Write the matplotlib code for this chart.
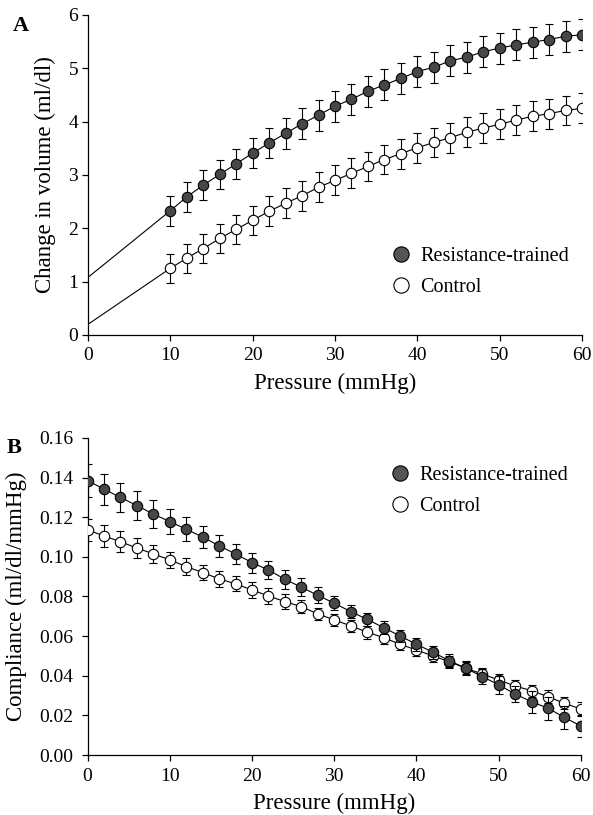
import numpy as np
import matplotlib.pyplot as plt
from matplotlib.lines import Line2D

plt.rcParams['font.family'] = ['Liberation Serif', 'DejaVu Serif']

# ---- Panel A: change in volume vs pressure ----
press_a = np.arange(10, 61, 2)
rt_vol = [2.33, 2.59, 2.81, 3.01, 3.21, 3.41, 3.60, 3.78, 3.96, 4.12, 4.29, 4.42, 4.57,
          4.69, 4.81, 4.94, 5.02, 5.14, 5.21, 5.31, 5.38, 5.44, 5.49, 5.54, 5.60, 5.63]
rt_vol_err = [0.28, 0.28, 0.28, 0.28, 0.28, 0.28, 0.28, 0.29, 0.29, 0.29, 0.29, 0.29, 0.29,
              0.29, 0.29, 0.29, 0.29, 0.29, 0.29, 0.29, 0.29, 0.29, 0.29, 0.29, 0.29, 0.29]
ctl_vol = [1.25, 1.44, 1.62, 1.81, 1.98, 2.15, 2.32, 2.47, 2.61, 2.77, 2.90, 3.03, 3.16,
           3.29, 3.40, 3.51, 3.61, 3.70, 3.80, 3.88, 3.95, 4.03, 4.10, 4.15, 4.21, 4.25]
ctl_vol_err = [0.27, 0.27, 0.27, 0.27, 0.27, 0.27, 0.28, 0.28, 0.28, 0.28, 0.28, 0.28, 0.28,
               0.28, 0.28, 0.28, 0.28, 0.28, 0.28, 0.28, 0.28, 0.28, 0.28, 0.28, 0.28, 0.28]
rt_intercept = 1.08
ctl_intercept = 0.20

# ---- Panel B: compliance vs pressure ----
press_b = np.arange(0, 61, 2)
rt_comp = [0.1385, 0.1342, 0.1300, 0.1259, 0.1216, 0.1178, 0.1140, 0.1100, 0.1056, 0.1015,
           0.0971, 0.0934, 0.0887, 0.0847, 0.0806, 0.0766, 0.0724, 0.0685, 0.0643, 0.0601,
           0.0559, 0.0519, 0.0476, 0.0438, 0.0396, 0.0354, 0.0308, 0.0269, 0.0236, 0.0190,
           0.0146]
rt_comp_err = [0.0084, 0.0078, 0.0073, 0.0072, 0.0071, 0.0064, 0.0059, 0.0057, 0.0055, 0.0050,
               0.0050, 0.0045, 0.0047, 0.0044, 0.0040, 0.0036, 0.0034, 0.0033, 0.0032, 0.0032,
               0.0032, 0.0033, 0.0033, 0.0034, 0.0040, 0.0045, 0.0042, 0.0055, 0.0057, 0.0057,
               0.0054]
ctl_comp = [0.1136, 0.1106, 0.1076, 0.1045, 0.1015, 0.0985, 0.0951, 0.0921, 0.0889, 0.0864,
            0.0833, 0.0803, 0.0774, 0.0749, 0.0712, 0.0682, 0.0652, 0.0620, 0.0593, 0.0559,
            0.0530, 0.0500, 0.0471, 0.0438, 0.0409, 0.0379, 0.0348, 0.0325, 0.0294, 0.0261,
            0.0232]
ctl_comp_err = [0.0056, 0.0055, 0.0053, 0.0051, 0.0046, 0.0042, 0.0044, 0.0040, 0.0040, 0.0038,
                0.0039, 0.0039, 0.0039, 0.0034, 0.0030, 0.0030, 0.0030, 0.0032, 0.0032, 0.0030,
                0.0030, 0.0030, 0.0030, 0.0030, 0.0030, 0.0028, 0.0030, 0.0030, 0.0034, 0.0031,
                0.0034]

labels = ['Resistance-trained', 'Control']
rt_face = '#474747'

fig = plt.figure(figsize=(5.93, 8.15), dpi=100)
axA = fig.add_axes([0.1484, 0.589, 0.833, 0.3926])
axB = fig.add_axes([0.1476, 0.0736, 0.832, 0.389])

eb_kw = dict(color='black', lw=0.8, elinewidth=0.8, capsize=3.2, capthick=0.8,
             markersize=7.5, markeredgewidth=0.8, markeredgecolor='black')

# extrapolated lines down to 0 mmHg
axA.plot([0, press_a[0]], [rt_intercept, rt_vol[0]], color='black', lw=0.8)
axA.plot([0, press_a[0]], [ctl_intercept, ctl_vol[0]], color='black', lw=0.8)
axA.errorbar(press_a, ctl_vol, yerr=ctl_vol_err, fmt='o-', markerfacecolor='white', zorder=3, **eb_kw)
axA.errorbar(press_a, rt_vol, yerr=rt_vol_err, fmt='o-', markerfacecolor=rt_face, zorder=4, **eb_kw)

axB.errorbar(press_b, ctl_comp, yerr=ctl_comp_err, fmt='o-', markerfacecolor='white', zorder=3, **eb_kw)
axB.errorbar(press_b, rt_comp, yerr=rt_comp_err, fmt='o-', markerfacecolor=rt_face, zorder=4, **eb_kw)

handles = [Line2D([], [], ls='none', marker='o', markersize=11, markerfacecolor='#555555',
                  markeredgecolor='black', markeredgewidth=0.8),
           Line2D([], [], ls='none', marker='o', markersize=11, markerfacecolor='white',
                  markeredgecolor='black', markeredgewidth=0.8)]

for ax in (axA, axB):
    for s in ('top', 'right'):
        ax.spines[s].set_visible(False)
    for s in ('left', 'bottom'):
        ax.spines[s].set_linewidth(0.9)
    ax.tick_params(direction='out', length=4, width=0.9, labelsize=14)
    ax.tick_params(axis='x', pad=5)
    ax.set_xlim(0, 60)
    ax.set_xticks(np.arange(0, 61, 10))
    ax.set_xlabel('Pressure (mmHg)', fontsize=16.5, labelpad=6)
    ax.legend(handles, labels, loc='upper left', frameon=False, fontsize=14.5,
              handlelength=1.0, handletextpad=0.45, labelspacing=0.6,
              borderpad=0, borderaxespad=0,
              bbox_to_anchor=(0.613, 0.275 if ax is axA else 0.912))

axA.tick_params(axis='y', pad=3)
axA.set_ylim(0, 6)
axA.set_yticks(np.arange(0, 7, 1))
axA.set_ylabel('Change in volume (ml/dl)', fontsize=16.5, labelpad=9)

axB.tick_params(axis='y', pad=6)
axB.set_ylim(0, 0.16)
axB.set_yticks(np.arange(0, 0.161, 0.02))
axB.set_yticklabels([f'{v:.2f}' for v in np.arange(0, 0.161, 0.02)])
axB.set_ylabel('Compliance (ml/dl/mmHg)', fontsize=16.5, labelpad=9)

fig.text(0.022, 0.9675, 'A', fontsize=16, fontweight='bold', va='center')
fig.text(0.012, 0.450, 'B', fontsize=16, fontweight='bold', va='center')

fig.savefig('out.png', dpi=100)
